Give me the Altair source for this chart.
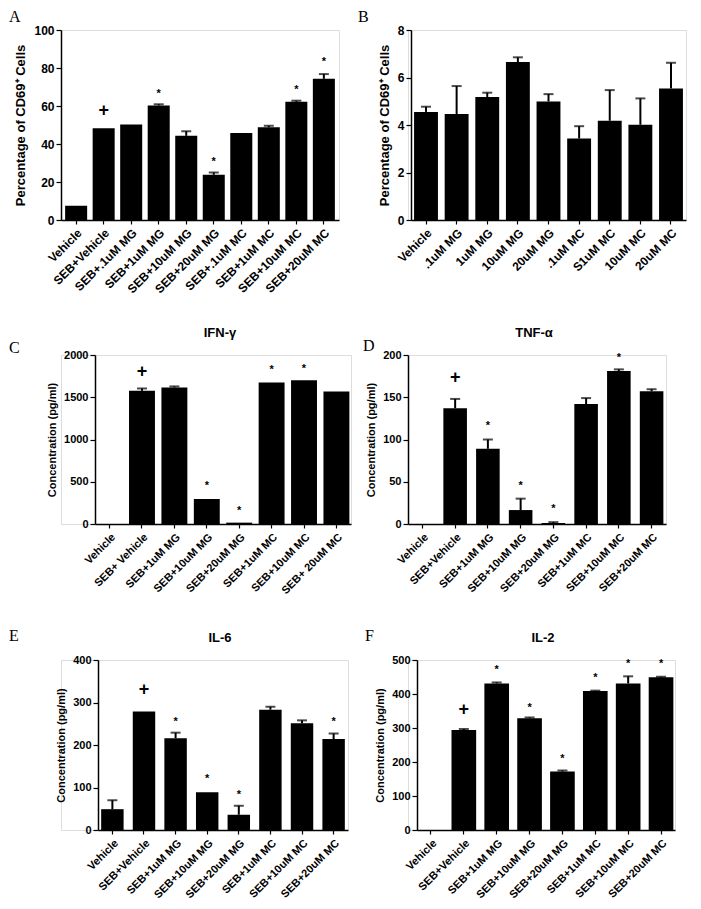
import altair as alt
import pandas as pd

# ---------------- data ----------------
A_cats = ["Vehicle", "SEB+Vehicle", "SEB+.1uM MG", "SEB+1uM MG", "SEB+10uM MG", "SEB+20uM MG",
          "SEB+.1uM MC", "SEB+1uM MC", "SEB+10uM MC", "SEB+20uM MC"]
A_vals = [7.5, 48.3, 50.2, 60.3, 44.3, 23.8, 45.8, 48.8, 62.2, 74.3]
A_errs = [None, None, None, 60.9, 46.7, 25.0, None, 49.6, 62.8, 76.8]
A_ann_cats = ["SEB+Vehicle", "SEB+1uM MG", "SEB+20uM MG", "SEB+10uM MC", "SEB+20uM MC"]
A_ann_y = [57.5, 66.5, 30.5, 68.5, 83]
A_ann_sym = ["+", "*", "*", "*", "*"]

B_cats = ["Vehicle", ".1uM MG", "1uM MG", "10uM MG", "20uM MG", ".1uM MC", "S1uM MC", "10uM MC", "20uM MC"]
B_vals = [4.55, 4.46, 5.18, 6.65, 4.99, 3.43, 4.18, 4.01, 5.54]
B_errs = [4.77, 5.64, 5.36, 6.85, 5.30, 3.95, 5.47, 5.12, 6.62]
B_ann_cats = []
B_ann_y = []
B_ann_sym = []

C_cats = ["Vehicle", "SEB+ Vehicle", "SEB+1uM MG", "SEB+10uM MG", "SEB+20uM MG",
          "SEB+1uM MC", "SEB+10uM MC", "SEB+ 20uM MC"]
C_vals = [0, 1576, 1616, 296, 16, 1676, 1700, 1568]
C_errs = [None, 1604, 1628, None, None, None, None, None]
C_ann_cats = ["SEB+ Vehicle", "SEB+10uM MG", "SEB+20uM MG", "SEB+1uM MC", "SEB+10uM MC"]
C_ann_y = [1796, 448, 148, 1820, 1832]
C_ann_sym = ["+", "*", "*", "*", "*"]

D_cats = ["Vehicle", "SEB+Vehicle", "SEB+1uM MG", "SEB+10uM MG", "SEB+20uM MG",
          "SEB+1uM MC", "SEB+10uM MC", "SEB+20uM MC"]
D_vals = [0, 137, 89, 16.5, 1.2, 142, 181, 157]
D_errs = [None, 148, 100, 30, 2.2, 149, 183, 159.5]
D_ann_cats = ["SEB+Vehicle", "SEB+1uM MG", "SEB+10uM MG", "SEB+20uM MG", "SEB+10uM MC"]
D_ann_y = [173, 116, 45, 18, 197]
D_ann_sym = ["+", "*", "*", "*", "*"]

E_cats = ["Vehicle", "SEB+Vehicle", "SEB+1uM MG", "SEB+10uM MG", "SEB+20uM MG",
          "SEB+1uM MC", "SEB+10uM MC", "SEB+20uM MC"]
E_vals = [49, 279, 216, 89, 36, 283, 251, 214]
E_errs = [70, None, 229, None, 57, 290, 258, 227]
E_ann_cats = ["SEB+Vehicle", "SEB+1uM MG", "SEB+10uM MG", "SEB+20uM MG", "SEB+20uM MC"]
E_ann_y = [330, 253, 120, 82, 253]
E_ann_sym = ["+", "*", "*", "*", "*"]

F_cats = ["Vehicle", "SEB+Vehicle", "SEB+1uM MG", "SEB+10uM MG", "SEB+20uM MG",
          "SEB+1uM MC", "SEB+10uM MC", "SEB+20uM MC"]
F_vals = [0, 294, 431, 329, 172, 409, 431, 449]
F_errs = [None, 297, 434, 331, 175, 410, 452, 451]
F_ann_cats = ["SEB+Vehicle", "SEB+1uM MG", "SEB+10uM MG", "SEB+20uM MG", "SEB+1uM MC", "SEB+10uM MC", "SEB+20uM MC"]
F_ann_y = [352, 470, 358, 210, 446, 487, 489]
F_ann_sym = ["+", "*", "*", "*", "*", "*", "*"]

SANS = "Liberation Sans"
SERIF = "Liberation Serif"


def panel(letter, lx, ly, title, cats, vals, errs, ann_cats, ann_y, ann_sym,
          ymax, ystep, ytitle, x0, x1, h, lab_size, tick_lab_size, ytitle_size,
          pad_inner, pad_outer, cap=10):
    df = pd.DataFrame({"cat": cats, "val": vals, "err": errs})
    xscale = alt.Scale(range=[x0, x1], paddingInner=pad_inner, paddingOuter=pad_outer)
    xenc = alt.X("cat:N", sort=cats, title=None, scale=xscale,
                 axis=alt.Axis(labelAngle=-45, labelAlign="right", labelBaseline="top",
                               labelFontSize=lab_size, labelFont=SANS, labelFontWeight="bold",
                               labelColor="black", tickColor="black", domainColor="black",
                               domainWidth=1.5, tickWidth=1.2, tickSize=4, labelPadding=3,
                               labelLimit=200, labelOverlap=False))
    ticks = list(range(0, int(ymax) + 1, int(ystep)))
    yscale = alt.Scale(domain=[0, ymax], nice=False, zero=True)
    yaxis = alt.Axis(values=ticks, format="d", title=ytitle, titleFont=SANS,
                     titleFontSize=ytitle_size, titleFontWeight="bold",
                     titleColor="black", labelFont=SANS, labelFontSize=tick_lab_size,
                     labelFontWeight="bold", labelColor="black", tickColor="black",
                     domainColor="black", domainWidth=1.5, tickWidth=1.2, tickSize=5,
                     grid=False, labelPadding=2, titlePadding=6, offset=-x0,
                     labelOverlap=False, labelFlush=False)
    yenc = alt.Y("val:Q", scale=yscale, axis=yaxis)
    bars = alt.Chart(df).mark_bar(color="black").encode(x=xenc, y=yenc)
    rule = alt.Chart(df).transform_filter("isValid(datum.err)").mark_rule(
        color="black", strokeWidth=2).encode(x=xenc, y=yenc, y2="err:Q")
    capm = alt.Chart(df).transform_filter("isValid(datum.err)").mark_tick(
        color="black", thickness=2, size=cap).encode(
        x=xenc, y=alt.Y("err:Q", scale=yscale, axis=yaxis))
    layers = [bars, rule, capm]
    if ann_cats:
        adf = pd.DataFrame({"cat": ann_cats, "ay": ann_y, "sym": ann_sym})
        adf["fs"] = [18 if s == "+" else 11 for s in ann_sym]
        ann = alt.Chart(adf).mark_text(color="black", font=SANS,
                                       fontWeight="bold", baseline="middle").encode(
            x=xenc, y=alt.Y("ay:Q", scale=yscale, axis=yaxis), text="sym:N",
            size=alt.Size("fs:Q", scale=None, legend=None))
        layers.append(ann)
    let = alt.Chart(pd.DataFrame({"t": [letter]})).mark_text(
        align="left", baseline="middle", font=SERIF, fontSize=16, color="black").encode(
        x=alt.value(lx), y=alt.value(ly), text="t:N")
    layers.append(let)
    if title:
        tt = alt.Chart(pd.DataFrame({"t": [title]})).mark_text(
            align="center", baseline="middle", font=SANS, fontSize=13, fontWeight="bold",
            color="black").encode(x=alt.value((x0 + x1) / 2 - 3), y=alt.value(-22), text="t:N")
        layers.append(tt)
    return alt.layer(*layers).properties(width=x1, height=h)


pA = panel("A", -52, -13, None, A_cats, A_vals, A_errs, A_ann_cats, A_ann_y, A_ann_sym,
           100, 20, "Percentage of CD69⁺ Cells", 0, 278, 190, 12, 12, 13, 0.2, 0.15)
pB = panel("B", -50, -13, None, B_cats, B_vals, B_errs, B_ann_cats, B_ann_y, B_ann_sym,
           8, 2, "Percentage of CD69⁺ Cells", 3, 278, 190, 12, 12, 13, 0.22, 0.1)
pC = panel("C", -52, -7, "IFN-γ", C_cats, C_vals, C_errs, C_ann_cats, C_ann_y, C_ann_sym,
           2000, 500, "Concentration (pg/ml)", 34, 290, 169, 11, 11, 11, 0.2, 0.05)
pD = panel("D", -45, -9, "TNF-α", D_cats, D_vals, D_errs, D_ann_cats, D_ann_y, D_ann_sym,
           200, 50, "Concentration (pg/ml)", 0, 258, 169, 11, 11, 11, 0.28, 0.08)
pE = panel("E", -52, -24, "IL-6", E_cats, E_vals, E_errs, E_ann_cats, E_ann_y, E_ann_sym,
           400, 100, "Concentration (pg/ml)", 37, 287, 170, 11, 11, 11, 0.29, 0.1)
pF = panel("F", -43, -24, "IL-2", F_cats, F_vals, F_errs, F_ann_cats, F_ann_y, F_ann_sym,
           500, 100, "Concentration (pg/ml)", 9, 267, 170, 11, 11, 11, 0.25, 0.05)

chart = alt.concat(pA, pB, pC, pD, pE, pF, columns=2,
                   spacing={"row": 30, "column": 5}).properties(padding=0).configure_view(
    strokeWidth=0).configure(background="white")

chart.save("out.html", embed_options={"renderer": "svg", "actions": False})
